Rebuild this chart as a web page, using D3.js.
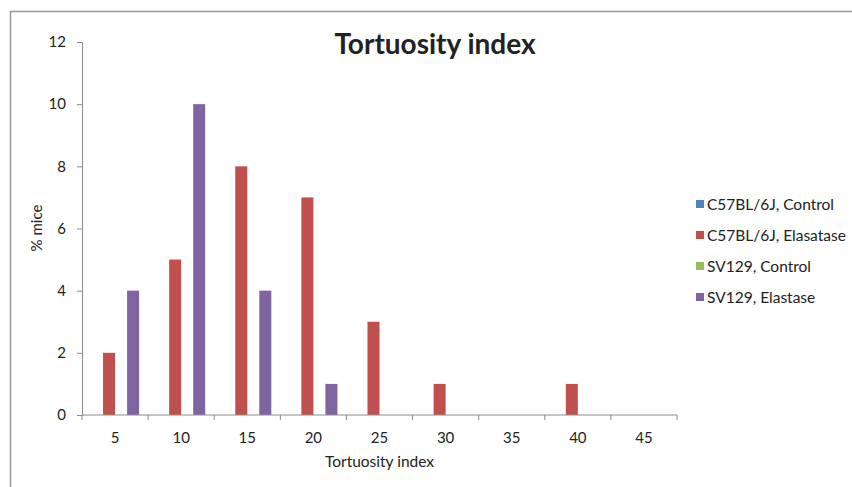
<!DOCTYPE html>
<html>
<head>
<meta charset="utf-8">
<script src="https://cdn.jsdelivr.net/npm/d3@7"></script>
<style>
  body { margin: 0; background: #fff; }
  svg text { font-family: Lato, "Open Sans", sans-serif; fill: #222; }
</style>
</head>
<body>
<div class="chart"></div>
<script>
// data
const categories = [5, 10, 15, 20, 25, 30, 35, 40, 45]
const seriesNames = ["C57BL/6J, Control", "C57BL/6J, Elasatase", "SV129, Control", "SV129, Elastase"]
const seriesColors = ["#4F81BD", "#C0504D", "#9BBB59", "#8064A2"]
const c57Control = [0, 0, 0, 0, 0, 0, 0, 0, 0]
const c57Elastase = [2, 5, 8, 7, 3, 1, 0, 1, 0]
const sv129Control = [0, 0, 0, 0, 0, 0, 0, 0, 0]
const sv129Elastase = [4, 10, 4, 1, 0, 0, 0, 0, 0]
const yTicks = [0, 2, 4, 6, 8, 10, 12]

const seriesValues = [c57Control, c57Elastase, sv129Control, sv129Elastase]

const width = 852, height = 487
const margin = { left: 82, right: 175, top: 42, bottom: 72 }

const svg = d3.select('.chart').append('svg')
    .attr('width', width)
    .attr('height', height)

// outer frame (runs off right / bottom)
svg.append('path')
    .attr('d', 'M10.5,' + height + 'V11.5H' + width)
    .attr('fill', 'none')
    .attr('stroke', '#9a9a9a')
    .attr('stroke-width', 1.5)

const x = d3.scaleBand()
    .domain(categories)
    .range([margin.left, width - margin.right])

const x1 = d3.scaleBand()
    .domain(d3.range(seriesNames.length))
    .range([0, x.bandwidth()])
    .paddingOuter(0.75)
    .paddingInner(0)

const y = d3.scaleLinear()
    .domain([0, 12])
    .range([height - margin.bottom, margin.top])

// bars
const groups = svg.append('g')
    .selectAll('g')
    .data(categories)
    .join('g')
    .attr('transform', d => 'translate(' + x(d) + ',0)')

groups.selectAll('rect')
    .data((d, i) => seriesValues.map((vals, s) => ({ s: s, v: vals[i] })))
    .join('rect')
    .attr('x', d => x1(d.s))
    .attr('width', x1.bandwidth())
    .attr('y', d => y(d.v))
    .attr('height', d => y(0) - y(d.v))
    .attr('fill', d => seriesColors[d.s])

// y axis
const yAxis = svg.append('g')
    .attr('transform', 'translate(' + margin.left + ',0)')
    .call(d3.axisLeft(y).tickValues(yTicks).tickSize(5).tickPadding(11))
yAxis.selectAll('text').style('font-size', '15px')

// x axis: ticks between categories like the original
const xAxisG = svg.append('g')
    .attr('transform', 'translate(0,' + y(0) + ')')
xAxisG.append('line')
    .attr('x1', margin.left).attr('x2', width - margin.right)
xAxisG.selectAll('line.tick')
    .data(categories.concat(['end']))
    .join('line')
    .attr('class', 'tick')
    .attr('x1', (d, i) => margin.left + i * x.bandwidth())
    .attr('x2', (d, i) => margin.left + i * x.bandwidth())
    .attr('y1', 0).attr('y2', 5)
xAxisG.selectAll('text')
    .data(categories)
    .join('text')
    .attr('x', d => x(d) + x.bandwidth() / 2)
    .attr('y', 28)
    .attr('text-anchor', 'middle')
    .style('font-size', '15px')
    .text(d => d)

svg.selectAll('.domain, .tick line, line').attr('stroke', '#8c8c8c')

// titles
svg.append('text')
    .attr('x', 435).attr('y', 54)
    .attr('text-anchor', 'middle')
    .style('font-size', '28px')
    .style('font-weight', 'bold')
    .text('Tortuosity index')

svg.append('text')
    .attr('x', (margin.left + width - margin.right) / 2)
    .attr('y', 467)
    .attr('text-anchor', 'middle')
    .style('font-size', '15.5px')
    .text('Tortuosity index')

svg.append('text')
    .attr('transform', 'translate(42,228) rotate(-90)')
    .attr('text-anchor', 'middle')
    .style('font-size', '15px')
    .text('% mice')

// legend
const legend = svg.append('g')
    .selectAll('g')
    .data(seriesNames)
    .join('g')
    .attr('transform', (d, i) => 'translate(696,' + (204 + i * 31) + ')')
legend.append('rect')
    .attr('x', 0).attr('y', -4)
    .attr('width', 8).attr('height', 8)
    .attr('fill', (d, i) => seriesColors[i])
legend.append('text')
    .attr('x', 11).attr('y', 5.5)
    .style('font-size', '15.5px')
    .text(d => d)
</script>
</body>
</html>
